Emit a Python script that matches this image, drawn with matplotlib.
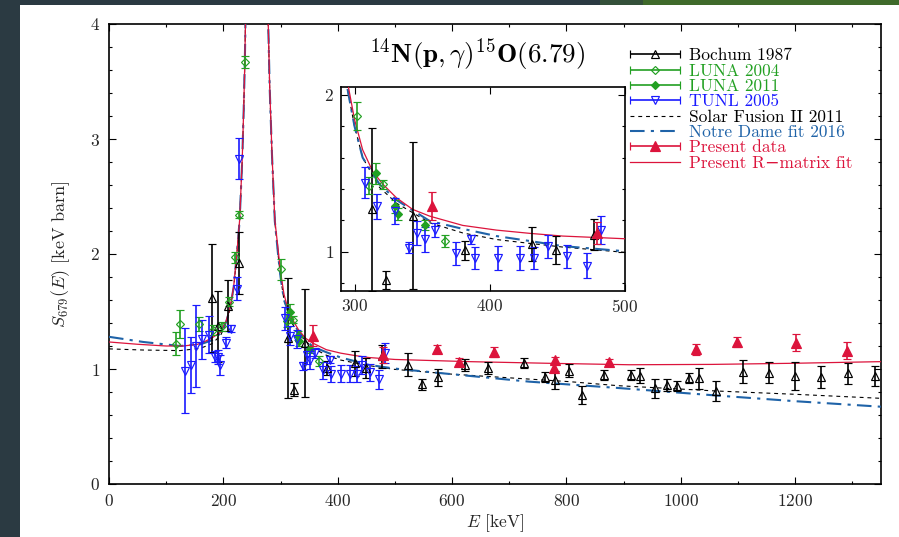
import numpy as np
import matplotlib
matplotlib.use('Agg')
import matplotlib.pyplot as plt
from matplotlib.patches import Rectangle
from matplotlib.container import ErrorbarContainer
from matplotlib.legend_handler import HandlerErrorbar
from matplotlib.lines import Line2D
from matplotlib.ticker import MultipleLocator

plt.rcParams['font.family'] = ['cmr10', 'DejaVu Serif']
plt.rcParams['mathtext.fontset'] = 'cm'
plt.rcParams['axes.formatter.use_mathtext'] = True
plt.rcParams['axes.unicode_minus'] = False

# ---------------- data ----------------
boch_E = [180, 191, 208, 228, 313, 323.5, 343, 382, 431, 449, 477, 523, 547, 575, 622,
          663, 725, 762, 780, 805, 827, 866, 912, 929, 955, 976, 993, 1015, 1032, 1061,
          1108, 1155, 1199, 1245, 1293, 1340]
boch_S = [1.62, 1.37, 1.55, 1.92, 1.27, 0.82, 1.23, 1.01, 1.05, 1.01, 1.11, 1.035, 0.867, 0.928, 1.035,
          1.01, 1.055, 0.933, 0.904, 0.985, 0.774, 0.948, 0.948, 0.94, 0.832, 0.861, 0.852, 0.919, 0.919, 0.809,
          0.977, 0.968, 0.939, 0.933, 0.962, 0.939]
boch_err = [0.47, 0.31, 0.22, 0.27, 0.52, 0.055, 0.47, 0.06, 0.11, 0.09, 0.10, 0.10, 0.05, 0.075, 0.05,
            0.05, 0.045, 0.045, 0.08, 0.055, 0.08, 0.045, 0.04, 0.065, 0.08, 0.05, 0.045, 0.045, 0.094, 0.087,
            0.10, 0.09, 0.123, 0.097, 0.093, 0.084]

luna04_E = [118, 124, 158, 182, 197, 210, 220, 227, 237.5, 301.6, 311, 321, 367]
luna04_S = [1.22, 1.39, 1.39, 1.34, 1.37, 1.585, 1.97, 2.34, 3.67, 1.867, 1.42, 1.43, 1.07]
luna04_err = [0.10, 0.12, 0.06, 0.04, 0.04, 0.04, 0.05, 0.03, 0.05, 0.09, 0.055, 0.03, 0.04]

luna11_E = [316, 330, 332, 352]
luna11_S = [1.50, 1.29, 1.24, 1.17]
luna11_err = [0.065, 0.04, 0.04, 0.03]

tunl_E = [133, 143, 153, 162, 174, 186, 191, 194, 204, 214, 224, 227,
          307.4, 316.8, 329.6, 340, 346.4, 351.8, 359.7, 375, 386, 389, 406, 422, 433, 443, 457, 472, 482]
tunl_S = [0.985, 1.035, 1.20, 1.26, 1.30, 1.107, 1.107, 1.035, 1.23, 1.35, 1.70, 2.83,
          1.44, 1.29, 1.26, 1.025, 1.12, 1.08, 1.14, 0.99, 1.08, 0.96, 0.96, 0.96, 0.96, 1.035, 0.97, 0.91, 1.14]
tunl_err = [0.37, 0.24, 0.36, 0.17, 0.16, 0.05, 0.06, 0.09, 0.05, 0.03, 0.10, 0.18,
            0.10, 0.08, 0.08, 0.035, 0.075, 0.08, 0.045, 0.075, 0.03, 0.07, 0.075, 0.075, 0.07, 0.075, 0.075, 0.08, 0.09]

pres_E = [357, 479, 574, 612, 674, 780, 778, 875, 1026, 1098, 1201, 1291]
pres_S = [1.29, 1.12, 1.174, 1.064, 1.145, 1.078, 1.01, 1.064, 1.171, 1.237, 1.229, 1.16]
pres_err = [0.09, 0.07, 0.036, 0.03, 0.043, 0.03, 0.035, 0.025, 0.048, 0.043, 0.075, 0.075]

rm_E = [0, 50, 100, 130, 155, 170, 180, 195, 205, 212, 218, 223.5, 228.5, 233, 235.5, 237.5, 238.7, 240.2,
        276.2, 278.3, 281, 285, 290, 295.6, 300, 306, 313.6, 321, 331, 343, 355.6, 380, 405, 430, 454, 500,
        630, 765, 910, 1055, 1200, 1350]
rm_S = [1.235, 1.215, 1.20, 1.20, 1.215, 1.245, 1.27, 1.32, 1.42, 1.54, 1.716, 2.0, 2.30, 2.83, 3.25, 3.67, 4.035, 4.6,
        4.6, 4.035, 3.455, 2.875, 2.296, 2.045, 1.843, 1.65, 1.51, 1.43, 1.344, 1.27, 1.227, 1.168, 1.138, 1.117, 1.10, 1.083,
        1.064, 1.05, 1.037, 1.04, 1.05, 1.064]

sf_E = [0, 60, 124, 160, 180, 195, 205, 212, 218, 223.5, 228.5, 233, 235.5, 237.5, 238.7, 240.2,
        276.2, 278.3, 281, 285, 290, 295.6, 300, 306, 318.5, 331, 355.6, 380, 405, 430, 454, 499,
        600, 805, 890, 1061, 1200, 1350]
sf_S = [1.175, 1.165, 1.16, 1.18, 1.22, 1.29, 1.40, 1.53, 1.70, 1.99, 2.29, 2.82, 3.24, 3.66, 4.03, 4.6,
        4.6, 4.03, 3.44, 2.86, 2.28, 2.0, 1.80, 1.60, 1.41, 1.31, 1.185, 1.12, 1.078, 1.053, 1.03, 0.997,
        0.955, 0.89, 0.855, 0.809, 0.78, 0.745]

nd_E = [0, 60, 124, 160, 180, 195, 205, 212, 218, 223.5, 228.5, 233, 235.5, 237.5, 238.7, 240.2,
        276.2, 278.3, 281, 285, 290, 295.6, 300, 306, 318.5, 331, 355.6, 380, 405, 430, 454, 499,
        572, 735, 890, 1061, 1200, 1350]
nd_S = [1.28, 1.235, 1.20, 1.215, 1.25, 1.31, 1.41, 1.535, 1.71, 1.995, 2.295, 2.825, 3.245, 3.665, 4.03, 4.6,
        4.6, 4.03, 3.445, 2.865, 2.285, 2.0, 1.80, 1.60, 1.43, 1.33, 1.196, 1.146, 1.10, 1.068, 1.036, 1.004,
        0.968, 0.89, 0.835, 0.77, 0.72, 0.672]

x_ticks = [0, 200, 400, 600, 800, 1000, 1200]
y_ticks = [0, 1, 2, 3, 4]
inset_x_ticks = [300, 400, 500]
inset_y_ticks = [1, 2]

# ---------------- style ----------------
RED = '#dc143c'
GREEN = '#22a022'
BLUE = '#1a1aff'
NDC = '#1f63a8'
TXT = '#262626'

W, H = 899, 537
fig = plt.figure(figsize=(W / 100, H / 100), dpi=100)
fig.patch.set_facecolor('#2b3a42')
fig.add_artist(Rectangle((20 / W, 0), 879 / W, 532 / H, transform=fig.transFigure,
                         facecolor='white', edgecolor='none', zorder=-10))
fig.add_artist(Rectangle((600 / W, 532 / H), 43 / W, 5 / H, transform=fig.transFigure,
                         facecolor='#34503a', edgecolor='none', zorder=-10))
fig.add_artist(Rectangle((643 / W, 532 / H), 256 / W, 5 / H, transform=fig.transFigure,
                         facecolor='#3f6a2b', edgecolor='none', zorder=-10))

ax = fig.add_axes([109 / W, 1 - 484 / H, 772 / W, 460 / H])
axin = fig.add_axes([341 / W, 1 - 291 / H, 284 / W, 204 / H])

ERR = dict(capsize=3, elinewidth=1.2, capthick=1.2, mew=0.85)
MS_TRI, MS_DIA, MS_PRES = 5.5, 4.3, 7


def draw(a):
    a.plot(sf_E, sf_S, color='k', lw=0.8, ls=(0, (3.5, 3.5)), zorder=3)
    a.plot(nd_E, nd_S, color=NDC, lw=1.5, ls=(0, (7, 3, 1.5, 3)), zorder=3)
    a.plot(rm_E, rm_S, color=RED, lw=0.9, zorder=3.5)
    a.errorbar(boch_E, boch_S, yerr=boch_err, fmt='^', mfc='none', mec='k', ecolor='k',
               ms=MS_TRI, zorder=4, **ERR)
    a.errorbar(luna04_E, luna04_S, yerr=luna04_err, fmt='D', mfc='none', mec=GREEN, ecolor=GREEN,
               ms=MS_DIA, zorder=4, **ERR)
    a.errorbar(luna11_E, luna11_S, yerr=luna11_err, fmt='D', mfc=GREEN, mec=GREEN, ecolor=GREEN,
               ms=MS_DIA, zorder=4, **ERR)
    a.errorbar(tunl_E, tunl_S, yerr=tunl_err, fmt='v', mfc='none', mec=BLUE, ecolor=BLUE,
               ms=MS_TRI, zorder=4, **ERR)
    a.errorbar(pres_E, pres_S, yerr=pres_err, fmt='^', mfc=RED, mec=RED, ecolor=RED,
               ms=MS_PRES, zorder=5, **ERR)


draw(ax)
draw(axin)

for a in (ax, axin):
    for s in a.spines.values():
        s.set_linewidth(1.2)
    a.tick_params(which='both', direction='in', top=True, right=True, colors='k',
                  labelcolor=TXT, labelsize=12.5)
    a.tick_params(which='major', length=5, width=0.8, pad=6.5)
    a.tick_params(which='minor', length=2.5, width=0.8)

ax.set_xlim(0, 1350)
ax.set_ylim(0, 4)
ax.set_xticks(x_ticks)
ax.set_yticks(y_ticks)
ax.xaxis.set_minor_locator(MultipleLocator(100))
ax.yaxis.set_minor_locator(MultipleLocator(0.2))
ax.set_xlabel(r'$E$ [keV]', fontsize=12.5, color=TXT, labelpad=2)
ax.set_ylabel(r'$S_{679}(E)$ [keV barn]', fontsize=13, color=TXT, labelpad=13)

axin.set_xlim(290, 500)
axin.set_ylim(0.75, 2.05)
axin.set_xticks(inset_x_ticks)
axin.set_yticks(inset_y_ticks)
axin.yaxis.set_minor_locator(MultipleLocator(0.2))
axin.tick_params(which='major', pad=5)

fig.text(477 / W, 1 - 55 / H, r'$\mathbf{^{14}N(p,\gamma)^{15}O(6.79)}$', fontsize=19.5,
         ha='center', va='center', color='k')

# ---------------- legend ----------------
def proxy(fmt, mfc, color, ms):
    return ax.errorbar([np.nan], [np.nan], xerr=[1], fmt=fmt, mfc=mfc, mec=color, ecolor=color,
                       ms=ms, **ERR)

h1 = proxy('^', 'none', 'k', MS_TRI)
h2 = proxy('D', 'none', GREEN, MS_DIA)
h3 = proxy('D', GREEN, GREEN, MS_DIA)
h4 = proxy('v', 'none', BLUE, MS_TRI)
h5 = Line2D([], [], color='k', lw=0.8, ls=(0, (3.5, 3.5)))
h6 = Line2D([], [], color=NDC, lw=1.5, ls=(0, (7, 3, 1.5, 3)))
h7 = proxy('^', RED, RED, MS_PRES)
h8 = Line2D([], [], color=RED, lw=0.9)

labels = ['Bochum 1987', 'LUNA 2004', 'LUNA 2011', 'TUNL 2005', 'Solar Fusion II 2011',
          'Notre Dame fit 2016', 'Present data', 'Present R\u2212matrix fit']
lcolors = ['k', GREEN, GREEN, BLUE, 'k', NDC, RED, RED]
leg = ax.legend([h1, h2, h3, h4, h5, h6, h7, h8], labels, loc='upper left',
                bbox_to_anchor=(630 / W, 1 - 48 / H), bbox_transform=fig.transFigure,
                frameon=False, fontsize=12.5, labelspacing=0.0, handlelength=2.9,
                handletextpad=0.5, borderpad=0, borderaxespad=0, labelcolor=lcolors,
                handler_map={ErrorbarContainer: HandlerErrorbar(xerr_size=1.45)})

fig.savefig('out.png', dpi=100, facecolor=fig.get_facecolor())
